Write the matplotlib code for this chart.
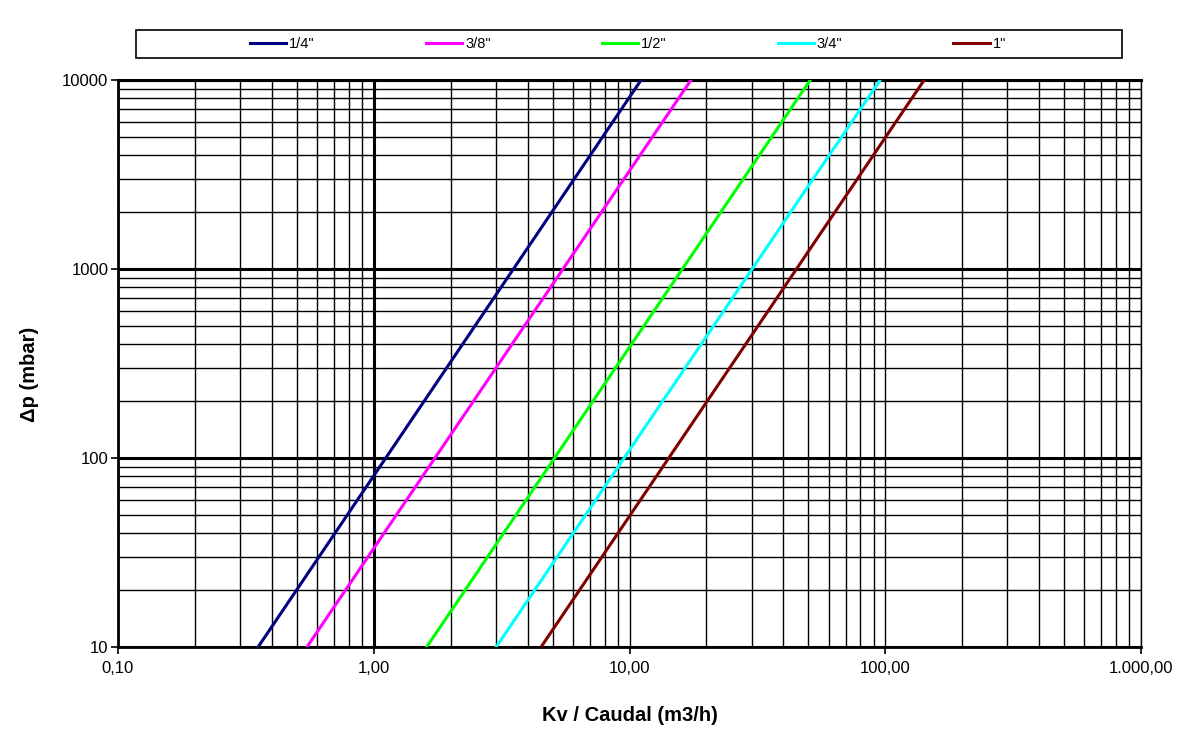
import matplotlib.pyplot as plt
from matplotlib.patches import Rectangle
from matplotlib.ticker import LogLocator, NullFormatter

plt.rcParams['font.family'] = ['Liberation Sans', 'DejaVu Sans']

# caudal (m3/h) at dp = 10 mbar and dp = 10000 mbar for each size
sizes = ['1/4"', '3/8"', '1/2"', '3/4"', '1"']
dp_ends = [10, 10000]
q_quarter = [0.353, 11.1]
q_three_eighths = [0.548, 17.4]
q_half = [1.61, 50.9]
q_three_quarter = [3.01, 95.5]
q_one = [4.51, 142.0]
colors = ['#000080', '#ff00ff', '#00ff00', '#00ffff', '#800000']

x_ticks = [0.1, 1, 10, 100, 1000]
x_labels = ['0,10', '1,00', '10,00', '100,00', '1.000,00']
y_ticks = [10, 100, 1000, 10000]
y_labels = ['10', '100', '1000', '10000']

fig = plt.figure(figsize=(11.91, 7.30), dpi=100)
ax = fig.add_axes([118/1191, 1-647/730, (1141-118)/1191, (647-80)/730])
ax.set_xscale('log')
ax.set_yscale('log')
ax.set_xlim(0.1, 1000)
ax.set_ylim(10, 10000)

# grid
ax.xaxis.set_minor_locator(LogLocator(base=10, subs=range(2, 10)))
ax.yaxis.set_minor_locator(LogLocator(base=10, subs=range(2, 10)))
ax.xaxis.set_minor_formatter(NullFormatter())
ax.yaxis.set_minor_formatter(NullFormatter())
ax.grid(True, which='minor', color='black', lw=1.0)
ax.grid(False, which='major', axis='x')
for xv in x_ticks:
    ax.axvline(xv, color='black', lw=2.2 if xv == 1 else 1.0, zorder=1)
for yv in y_ticks:
    ax.axhline(yv, color='black', lw=2.2, zorder=1)

series = [q_quarter, q_three_eighths, q_half, q_three_quarter, q_one]
handles = []
for q, c, lab in zip(series, colors, sizes):
    h, = ax.plot(q, dp_ends, color=c, lw=2.2, label=lab, zorder=3)
    handles.append(h)

ax.set_xticks(x_ticks)
ax.set_xticklabels(x_labels)
ax.set_yticks(y_ticks)
ax.set_yticklabels(y_labels)
ax.tick_params(which='major', length=5, width=1.2, labelsize=12)
ax.tick_params(axis='x', pad=5)
ax.tick_params(axis='y', pad=2)
ax.tick_params(which='minor', length=0)
for s in ['left', 'bottom']:
    ax.spines[s].set_linewidth(2)
ax.spines['top'].set_linewidth(2.2)
ax.spines['right'].set_linewidth(1)

ax.set_xlabel('Kv / Caudal (m3/h)', fontsize=14.5, fontweight='bold', labelpad=22)
ax.set_ylabel('Δp (mbar)', fontsize=14.5, fontweight='bold')
ax.yaxis.set_label_coords(-0.077, 0.480)

# legend box
fig.patches.append(Rectangle((136/1191, 1-58/730), (1122-136)/1191, 28/730,
                             transform=fig.transFigure, fill=False,
                             edgecolor='black', lw=1.2))
fig.legend(handles=handles, loc='center', ncol=5, mode='expand', frameon=False,
           bbox_to_anchor=(244/1191, 1-58/730, (1012-244)/1191, 28/730),
           fontsize=10.5, handlelength=2.5, handletextpad=0.2, borderaxespad=0)

fig.savefig('out.png', dpi=100)
